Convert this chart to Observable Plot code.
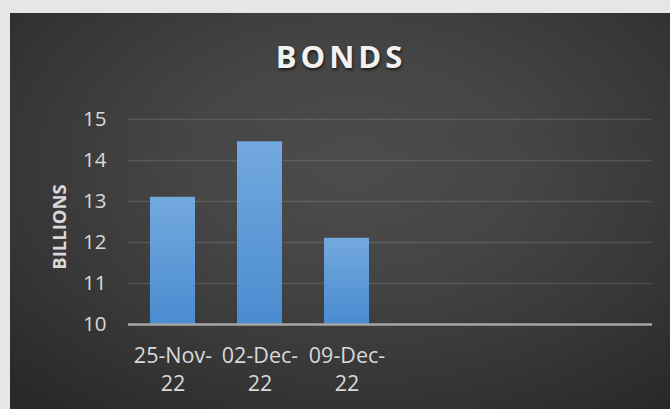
<!DOCTYPE html>
<html>
<head>
<meta charset="utf-8">
<script src="https://cdn.jsdelivr.net/npm/d3@7"></script>
<script src="https://cdn.jsdelivr.net/npm/@observablehq/plot@0.6"></script>
<style>
  html, body { margin: 0; padding: 0; }
  body { width: 670px; height: 409px; background: #e6e6e6; position: relative; overflow: hidden; font-family: "Open Sans", sans-serif; }
  #panel {
    position: absolute; left: 10px; top: 13px; width: 660px; height: 396px;
    background: radial-gradient(ellipse 75% 80% at 52% 38%, #4c4c4c 0%, #454545 35%, #363636 70%, #282828 100%);
  }
  #title {
    position: absolute; left: 1px; top: 23px; width: 660px; text-align: center;
    font-family: "Open Sans", sans-serif; font-weight: 700; font-size: 31px; letter-spacing: 4px;
    color: #f2f2f2; text-shadow: 1px 2px 3px rgba(0,0,0,0.6); line-height: 40px;
  }
  #chart { position: absolute; left: 0; top: 75px; }
</style>
</head>
<body>
<div id="panel">
  <div id="title">BONDS</div>
  <div id="chart"></div>
</div>
<script>
const dates = ["25-Nov-22", "02-Dec-22", "09-Dec-22"];
const values = [13.1, 14.45, 12.1];
const yTicks = [10, 11, 12, 13, 14, 15];
const emptySlots = ["_a", "_b", "_c"];
const yLabel = "BILLIONS";

const data = dates.map((d, i) => ({date: d, value: values[i]}));

const defs = () => {
  const g = d3.create("svg:g");
  const d = g.append("defs");
  const lg = d.append("linearGradient").attr("id", "barGrad").attr("x1", 0).attr("y1", 0).attr("x2", 0).attr("y2", 1);
  lg.append("stop").attr("offset", "0%").attr("stop-color", "#73a9de");
  lg.append("stop").attr("offset", "100%").attr("stop-color", "#4a8bd0");
  const f = d.append("filter").attr("id", "barShadow").attr("x", "-30%").attr("y", "-10%").attr("width", "160%").attr("height", "130%");
  f.append("feDropShadow").attr("dx", 2).attr("dy", 2).attr("stdDeviation", 3).attr("flood-color", "#000").attr("flood-opacity", 0.45);
  return g.node();
};

const chart = Plot.plot({
  width: 660,
  height: 321,
  marginLeft: 118,
  marginRight: 18,
  marginTop: 31,
  marginBottom: 85,
  style: {background: "transparent", fontFamily: "Open Sans, sans-serif", fontSize: "20px", color: "#d9d9d9", overflow: "visible"},
  x: {domain: [...dates, ...emptySlots], paddingInner: 0.485, paddingOuter: 0.2425, label: null},
  y: {domain: [10, 15], label: null},
  marks: [
    defs,
    Plot.ruleY(yTicks.filter(t => t > 10), {stroke: "#ffffff", strokeOpacity: 0.12, strokeWidth: 1.5}),
    Plot.barY(data, {x: "date", y1: 10, y2: "value", fill: "url(#barGrad)", style: "filter: url(#barShadow)"}),
    Plot.barY(data, {x: "date", y1: 10, y2: "value", fill: "url(#barGrad)"}),
    Plot.ruleY([10], {stroke: "#a6a6a6", strokeWidth: 2.5}),
    Plot.axisY({ticks: yTicks, tickFormat: d3.format("d"), tickSize: 0, tickPadding: 22, fontSize: "20.5px", fill: "#d9d9d9", label: null}),
    Plot.axisX({
      tickSize: 0, tickPadding: 19, fontSize: "21.5px", fill: "#d9d9d9", label: null, lineHeight: 1.3,
      tickFormat: d => dates.includes(d) ? d.slice(0, d.lastIndexOf("-") + 1) + "\n" + d.slice(d.lastIndexOf("-") + 1) : ""
    }),
    Plot.text([yLabel], {frameAnchor: "left", textAnchor: "middle", dx: -68, dy: 5, rotate: -90, fontSize: "18.5px", fontWeight: "bold", fill: "#d9d9d9", text: d => d})
  ]
});
document.getElementById("chart").appendChild(chart);
</script>
</body>
</html>
